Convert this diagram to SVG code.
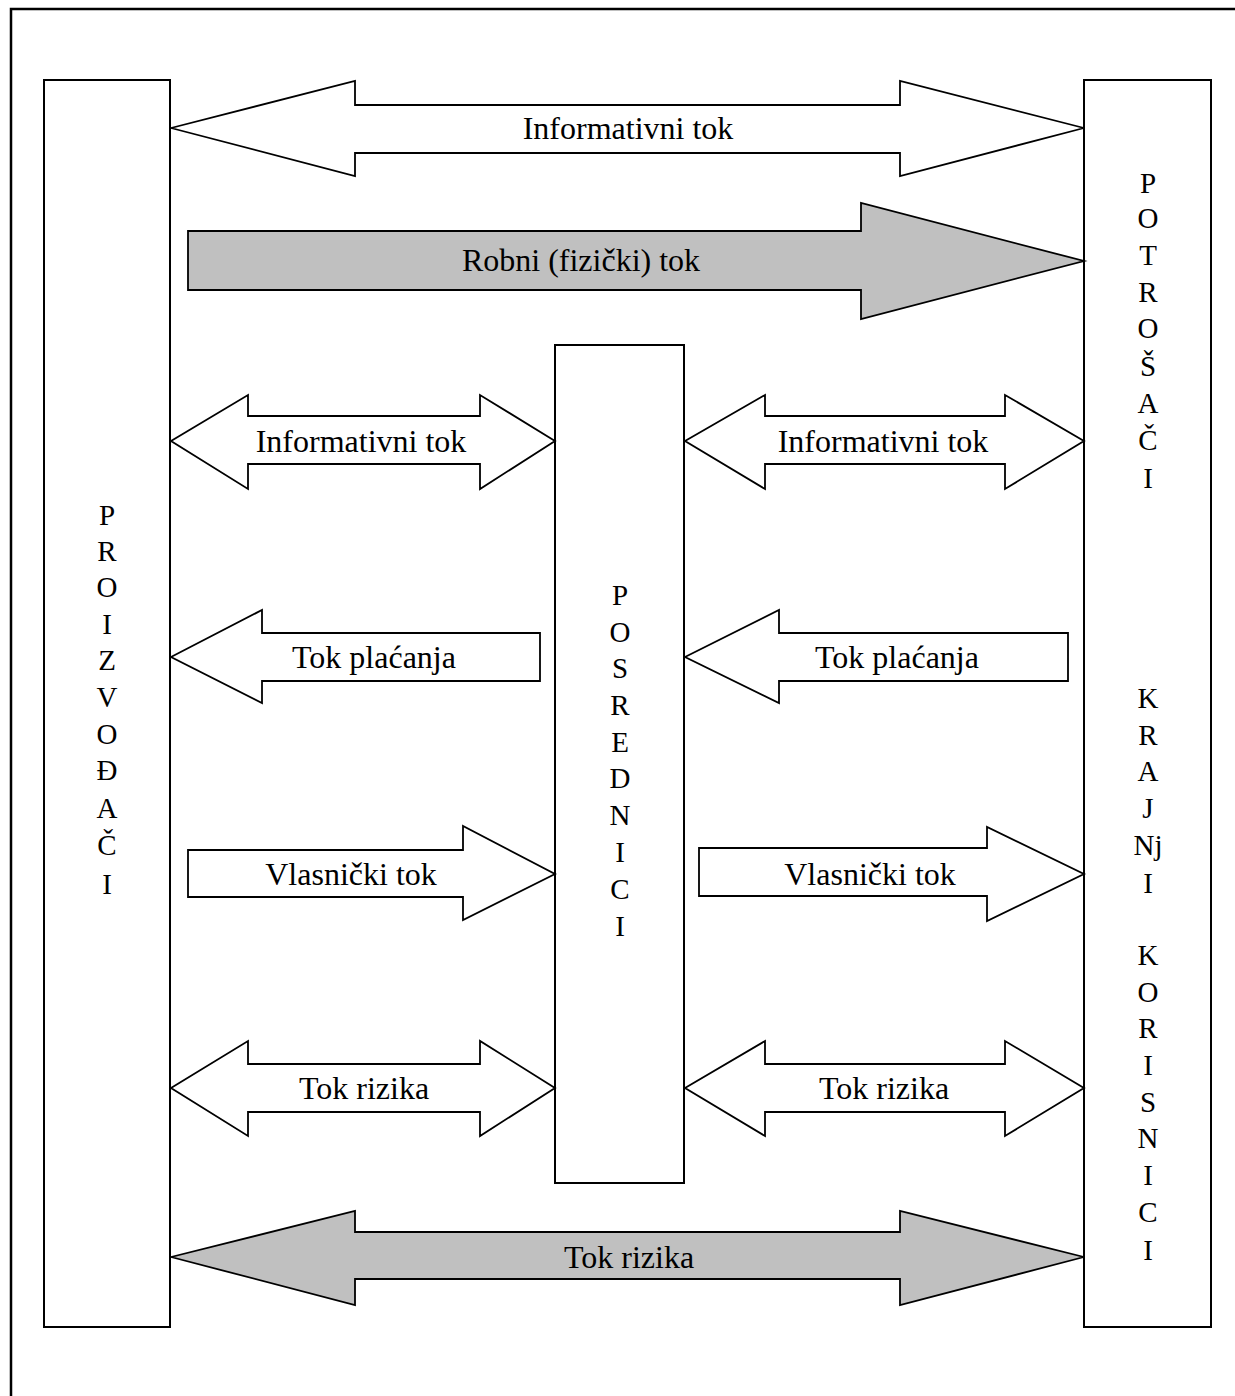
<svg xmlns="http://www.w3.org/2000/svg" width="1235" height="1396" viewBox="0 0 1235 1396">
<style>
.box{fill:#fff;stroke:#000;stroke-width:2}
.arr{fill:#fff;stroke:#000;stroke-width:1.8;stroke-linejoin:miter}
.gray{fill:#c0c0c0}
.lbl{font-family:"Liberation Serif","Times New Roman",serif;font-size:32px;text-anchor:middle;fill:#000}
.v{font-family:"Liberation Serif","Times New Roman",serif;font-size:29px;text-anchor:middle;fill:#000}
.frame{fill:none;stroke:#000;stroke-width:2.5}
</style>
<rect width="1235" height="1396" fill="#fff"/>
<path class="frame" d="M11,1396 V9 H1235"/>
<g id="proizvodjaci">
<rect class="box" x="44" y="80" width="126" height="1247"/>
<g class="v">
<text x="107" y="525">P</text>
<text x="107" y="561">R</text>
<text x="107" y="597">O</text>
<text x="107" y="634">I</text>
<text x="107" y="670">Z</text>
<text x="107" y="707">V</text>
<text x="107" y="744">O</text>
<text x="107" y="780">Đ</text>
<text x="107" y="818">A</text>
<text x="107" y="855">Č</text>
<text x="107" y="894">I</text>
</g>
</g>
<g id="potrosaci">
<rect class="box" x="1084" y="80" width="127" height="1247"/>
<g class="v">
<text x="1148" y="193">P</text>
<text x="1148" y="228">O</text>
<text x="1148" y="265">T</text>
<text x="1148" y="302">R</text>
<text x="1148" y="338">O</text>
<text x="1148" y="376">Š</text>
<text x="1148" y="413">A</text>
<text x="1148" y="450">Č</text>
<text x="1148" y="488">I</text>
<text x="1148" y="708">K</text>
<text x="1148" y="745">R</text>
<text x="1148" y="781">A</text>
<text x="1148" y="818">J</text>
<text x="1148" y="855">Nj</text>
<text x="1148" y="893">I</text>
<text x="1148" y="965">K</text>
<text x="1148" y="1002">O</text>
<text x="1148" y="1038">R</text>
<text x="1148" y="1075">I</text>
<text x="1148" y="1112">S</text>
<text x="1148" y="1148">N</text>
<text x="1148" y="1185">I</text>
<text x="1148" y="1222">C</text>
<text x="1148" y="1260">I</text>
</g>
</g>
<g id="posrednici">
<rect class="box" x="555" y="345" width="129" height="838"/>
<g class="v">
<text x="620" y="605">P</text>
<text x="620" y="642">O</text>
<text x="620" y="678">S</text>
<text x="620" y="715">R</text>
<text x="620" y="752">E</text>
<text x="620" y="788">D</text>
<text x="620" y="825">N</text>
<text x="620" y="862">I</text>
<text x="620" y="899">C</text>
<text x="620" y="936">I</text>
</g>
</g>
<g id="connectors">
<polygon class="arr" points="171,128 355,81 355,105 900,105 900,81 1084,128 900,176 900,153 355,153 355,176"/>
<text class="lbl" x="628" y="139">Informativni tok</text>
<polygon class="arr gray" points="188,231 861,231 861,203 1084,261 861,319 861,290 188,290"/>
<text class="lbl" x="581" y="271">Robni (fizički) tok</text>
<polygon class="arr" points="171,441 248,395 248,416 480,416 480,395 555,441 480,489 480,464 248,464 248,489"/>
<text class="lbl" x="361" y="452">Informativni tok</text>
<polygon class="arr" points="685,441 765,395 765,416 1005,416 1005,395 1084,441 1005,489 1005,464 765,464 765,489"/>
<text class="lbl" x="883" y="452">Informativni tok</text>
<polygon class="arr" points="171,657 262,610 262,633 540,633 540,681 262,681 262,703"/>
<text class="lbl" x="374" y="668">Tok plaćanja</text>
<polygon class="arr" points="685,657 779,610 779,633 1068,633 1068,681 779,681 779,703"/>
<text class="lbl" x="897" y="668">Tok plaćanja</text>
<polygon class="arr" points="188,850 463,850 463,826 555,874 463,920 463,897 188,897"/>
<text class="lbl" x="351" y="885">Vlasnički tok</text>
<polygon class="arr" points="699,848 987,848 987,827 1084,874 987,921 987,896 699,896"/>
<text class="lbl" x="870" y="885">Vlasnički tok</text>
<polygon class="arr" points="171,1088 248,1041 248,1064 480,1064 480,1041 555,1088 480,1136 480,1112 248,1112 248,1136"/>
<text class="lbl" x="364" y="1099">Tok rizika</text>
<polygon class="arr" points="685,1088 765,1041 765,1064 1005,1064 1005,1041 1084,1088 1005,1136 1005,1112 765,1112 765,1136"/>
<text class="lbl" x="884" y="1099">Tok rizika</text>
<polygon class="arr gray" points="171,1257 355,1211 355,1232 900,1232 900,1211 1084,1257 900,1305 900,1279 355,1279 355,1305"/>
<text class="lbl" x="629" y="1268">Tok rizika</text>
</g>
</svg>
